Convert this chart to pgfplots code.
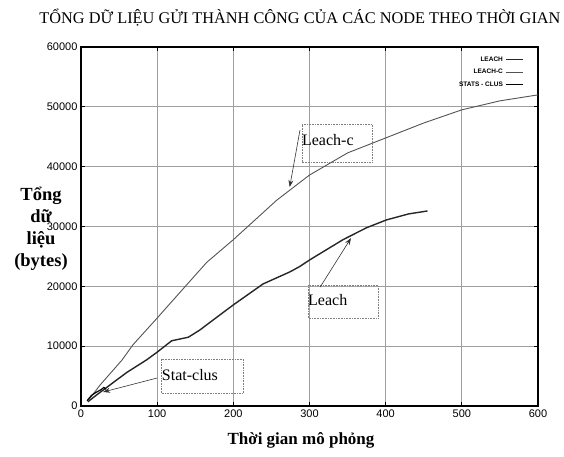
\documentclass[border=0pt]{standalone}
\usepackage{fontspec}
\setmainfont{Liberation Serif}
\setsansfont{Liberation Sans}
\usepackage{pgfplots}
\pgfplotsset{compat=1.18}
\usetikzlibrary{arrows.meta}
\begin{document}
\begin{tikzpicture}[x=1pt,y=1pt]
\useasboundingbox (0,0) rectangle (564,456);
\node[font=\fontsize{16.3}{18}\selectfont] at (300,438) {TỔNG DỮ LIỆU GỬI THÀNH CÔNG CỦA CÁC NODE THEO THỜI GIAN};
\node[font=\bfseries\fontsize{17}{19}\selectfont] at (301,16) {Thời gian mô phỏng};
\node[font=\bfseries\fontsize{18.5}{22}\selectfont, align=center] at (41,227) {Tổng\\dữ\\liệu\\(bytes)};
\begin{axis}[
  at={(81pt,50pt)}, anchor=south west, scale only axis,
  width=457pt, height=359pt,
  xmin=0, xmax=600, ymin=0, ymax=60000,
  xtick={0,100,...,600}, ytick={0,10000,...,60000},
  scaled y ticks=false,
  yticklabel style={/pgf/number format/1000 sep={}},
  /pgf/number format/assume math mode=true,
  ticklabel style={font=\sffamily\fontsize{11}{12}\selectfont},
  grid=major, grid style={gray!75, line width=0.9pt},
  axis line style={line width=1.3pt},
  tick style={black, line width=0.8pt},
  legend style={at={(rel axis cs:0.975,0.985)}, anchor=north east, draw=none, fill=none,
    font=\sffamily\bfseries\fontsize{6.5}{7}\selectfont, row sep=2.5pt},
  legend cell align=right, legend plot pos=right,
]
\addplot[black!85, line width=1.4pt] coordinates {
(9,700) (20,1800) (40,3700) (60,5600) (86,7700) (100,9000) (119,10900) (141,11500) (156,12700) (180,15000) (200,16900) (239,20400) (274,22400) (287,23300) (300,24400) (344,27800) (375,29800) (401,31100) (430,32100) (455,32600)};
\addlegendentry{LEACH}
\addplot[gray!65!black, line width=0.9pt] coordinates {
(10,1000) (25,3500) (54,7700) (68,10200) (100,14700) (137,20000) (165,24000) (200,27800) (257,34400) (300,38600) (350,42300) (400,44800) (450,47300) (500,49500) (550,51000) (600,52000)};
\addlegendentry{LEACH-C}
\addplot[black, line width=1.2pt] coordinates {
(8,900) (14,1800) (20,2300) (26,2700) (30,3100) (33,2800)};
\addlegendentry{STATS - CLUS}
% annotation boxes
\draw[gray, densely dotted, line width=0.6pt] (axis cs:290,40770) rectangle (axis cs:382,47120);
\draw[gray, densely dotted, line width=0.6pt] (axis cs:298,14700) rectangle (axis cs:390,20220);
\draw[gray, densely dotted, line width=0.6pt] (axis cs:106,2170) rectangle (axis cs:213,7850);
\node[anchor=west, inner sep=0pt, font=\fontsize{16}{18}\selectfont] at (axis cs:290,44500) {Leach-c};
\node[anchor=west, inner sep=0pt, font=\fontsize{16}{18}\selectfont] at (axis cs:298,17710) {Leach};
\node[anchor=west, inner sep=0pt, font=\fontsize{16}{18}\selectfont] at (axis cs:106,5180) {Stat-clus};
% arrows
\draw[-{Stealth[length=7pt,width=5pt]}, black!80, line width=0.6pt] (axis cs:287.5,46120) -- (axis cs:274,36600);
\draw[-{Stealth[length=7pt,width=5pt]}, black!80, line width=0.6pt] (axis cs:314,19880) -- (axis cs:354.5,28070);
\draw[-{Stealth[length=7pt,width=5pt]}, black!80, line width=0.6pt] (axis cs:100,4680) -- (axis cs:29,2340);
\end{axis}
\end{tikzpicture}
\end{document}
